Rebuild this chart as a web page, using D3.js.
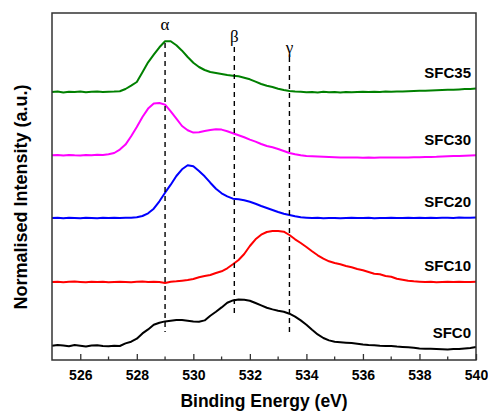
<!DOCTYPE html>
<html>
<head>
<meta charset="utf-8">
<script src="https://cdn.jsdelivr.net/npm/d3@7"></script>
<style>
body { margin: 0; background: #fff; }
svg text { font-family: "Liberation Sans", Arial, sans-serif; font-weight: bold; fill: #000; }
</style>
</head>
<body>
<svg id="fig" width="488" height="412"></svg>
<script>
// binding energy grid (eV), 0.2 eV step
const energy = d3.range(0, 76).map(i => 525 + i * 0.2);

// intensities above each curve's own baseline (a.u.)
const sfc35 = [0, 0.5, -0.4, 0.3, 0, 0.6, -0.3, 0.2, 0.6, 0, 0.3, 0.4, 0.7, 3, 6.3, 10, 19.7, 29.7, 37.3, 44.7,
  50.7, 50.7, 46.7, 41.3, 35, 29.3, 25, 22, 20, 19, 18, 17, 16.3, 15.7, 14.3, 12.7, 10.3, 8, 6.3, 5,
  3.3, 2, 1, 0.5, 0.3, -0.2, 0, -0.4, 0.2, -0.3, 0, -0.4, 0.1, -0.2, 0, 0.2, -0.1, 0.3, 0.1, 0.4,
  0.3, 0.6, 0.4, 0.8, 1, 1.3, 1.2, 1.6, 1.8, 2.1, 2.3, 2.2, 2.6, 2.9, 3.1, 3.4];
const sfc30 = [0, 0.3, -0.3, 0.4, 0, -0.2, 0.3, 0, 0.5, 0.4, 1, 2.3, 5.7, 10.7, 19, 28.3, 38.3, 46.7, 51.7, 52.3,
  50.7, 44, 36.7, 29.3, 25, 22.7, 23, 24.3, 25.3, 26, 25.7, 24, 22, 20, 18, 15.7, 13.7, 11.3, 9.3, 8,
  6.3, 4.3, 2.3, 1, 0, -0.7, -1, -1.3, -1.5, -1.8, -2, -2.1, -2.2, -2.3, -2.2, -2.4, -2.3, -2.4, -2.2, -2.3,
  -2.3, -2.2, -2.1, -2.2, -2, -2, -1.8, -1.6, -1.5, -1.2, -1, -0.8, -0.6, -0.4, -0.2, 0];
const sfc20 = [0, 0.3, -0.2, 0.2, 0, -0.3, 0.2, 0.1, -0.2, 0.3, 0, 0.2, -0.1, 0.3, 0.2, 0.7, 2, 4.7, 9.3, 16.7,
  25.3, 33.3, 42, 48.7, 52.7, 51.7, 47, 41.7, 35.3, 29.3, 24.7, 21.7, 19.3, 18.7, 17.7, 16.3, 14.3, 12, 10, 8,
  6, 4.3, 3, 1.7, 0.7, 0.3, 0, 0.2, -0.2, 0, 0.1, -0.3, 0, 0.2, -0.1, 0, 0.2, -0.2, 0.1, 0,
  0.2, -0.1, 0.1, 0.3, 0, 0.2, 0.1, 0.3, 0, 0.2, 0.3, 0.1, 0.4, 0.2, 0.3, 0.4];
const sfc10 = [0, 0.3, -0.2, 0.2, 0.4, 0, -0.3, 0.2, 0, 0.3, -0.2, 0, 0.3, 0.1, -0.2, 0.2, 0.4, 0, 0.2, 0,
  -1, 0.3, 0.7, 1.3, 2, 3, 4.7, 6, 7, 9, 10.7, 13.7, 17.7, 22, 28, 36, 42.7, 47.3, 50, 51,
  51, 50.3, 47, 42.7, 39, 35, 30.7, 26.7, 23.3, 20.7, 19, 17.7, 16, 14.7, 13, 11.7, 10, 8.3, 7.7, 6,
  5.3, 3.3, 2.3, 1.3, 0.7, 0.3, 0, 0.2, -0.2, 0.1, 0.3, 0, 0.2, -0.1, 0.1, 0.2];
const sfc0 = [0, 0.8, 0.3, -0.5, 0.6, 0, -0.8, 0.2, 0.5, -0.3, -0.6, 0, -0.3, 2.3, 4, 7, 12.3, 16.3, 21, 23,
  24.3, 25, 25.7, 25.7, 25, 24.3, 24, 25.3, 30, 34, 38.3, 43, 45.3, 46.3, 46, 45, 42.7, 40.3, 38, 36.3,
  35, 34, 32, 29, 25.3, 21, 16, 11.3, 7.7, 5.3, 4, 3.5, 3, 2.6, 2, 1.2, 0.7, 0.4, 0, -0.2,
  -0.3, -0.9, -1.3, -1.6, -2, -2.8, -3, -3.1, -3.3, -3.5, -3.7, -3.4, -3.3, -2.8, -2.3, -1.3];

const sampleNames = ["SFC35", "SFC30", "SFC20", "SFC10", "SFC0"];
const sampleValues = [sfc35, sfc30, sfc20, sfc10, sfc0];
const sampleOffsets = [268, 204.7, 142, 78, 14.3];   // vertical stacking offsets (a.u.)
const sampleColors = ["#008000", "#ff00ff", "#0000ff", "#ff0000", "#000000"];

const peakNames = ["\u03b1", "\u03b2", "\u03b3"];
const peakEnergy = [529.0, 531.45, 533.4];

const xTicks = [526, 528, 530, 532, 534, 536, 538, 540];
const xMinor = [525, 527, 529, 531, 533, 535, 537, 539];

// layout
const plotL = 52, plotR = 476, plotT = 13, plotB = 360;
const svg = d3.select("#fig");

const x = d3.scaleLinear().domain([525, 540]).range([plotL, plotR]);
const y = d3.scaleLinear().domain([0, plotB - plotT]).range([plotB, plotT]);

const line = d3.line()
  .x(d => x(d[0]))
  .y(d => y(d[1]));

sampleNames.forEach((name, k) => {
  const pts = energy.map((e, i) => [e, sampleOffsets[k] + sampleValues[k][i]]);
  svg.append("path")
    .attr("d", line(pts))
    .attr("fill", "none")
    .attr("stroke", sampleColors[k])
    .attr("stroke-width", 2)
    .attr("stroke-linejoin", "round");
});

// dashed peak markers
const dashTop = [317, 313, 303];
const dashBottom = [28, 43, 27];
const labelY = [30, 42, 53];
peakEnergy.forEach((e, i) => {
  svg.append("line")
    .attr("x1", x(e)).attr("x2", x(e))
    .attr("y1", y(dashTop[i])).attr("y2", y(dashBottom[i]))
    .attr("stroke", "#000")
    .attr("stroke-width", 1.4)
    .attr("stroke-dasharray", "5,4");
  svg.append("text")
    .attr("x", x(e))
    .attr("y", labelY[i])
    .attr("text-anchor", "middle")
    .style("font-family", "'Liberation Serif', 'Times New Roman', serif")
    .style("font-weight", "normal")
    .style("font-size", "17px")
    .text(peakNames[i]);
});

// sample labels
const nameY = [78, 145, 207, 271, 338];
sampleNames.forEach((name, k) => {
  svg.append("text")
    .attr("x", 471)
    .attr("y", nameY[k])
    .attr("text-anchor", "end")
    .style("font-size", "15px")
    .text(name);
});

// frame
svg.append("rect")
  .attr("x", plotL).attr("y", plotT)
  .attr("width", plotR - plotL).attr("height", plotB - plotT)
  .attr("fill", "none")
  .attr("stroke", "#333")
  .attr("stroke-width", 1.5);

// x axis, ticks inward
const xAxis = d3.axisBottom(x).tickValues(xTicks).tickSize(-6).tickPadding(10).tickFormat(d3.format("d"));
const gx = svg.append("g").attr("transform", `translate(0,${plotB})`).call(xAxis);
gx.select(".domain").remove();
gx.selectAll(".tick line").attr("stroke", "#333").attr("stroke-width", 1.3);
gx.selectAll(".tick text").style("font-size", "14px").style("font-family", "'Liberation Sans', Arial, sans-serif");

svg.append("g").selectAll("line")
  .data(xMinor.filter(d => d > 525))
  .join("line")
  .attr("x1", d => x(d)).attr("x2", d => x(d))
  .attr("y1", plotB).attr("y2", plotB - 3.5)
  .attr("stroke", "#333").attr("stroke-width", 1.3);

svg.append("text")
  .attr("x", (plotL + plotR) / 2)
  .attr("y", 407)
  .attr("text-anchor", "middle")
  .style("font-size", "17.5px")
  .text("Binding Energy (eV)");

svg.append("text")
  .attr("transform", "translate(27,197) rotate(-90)")
  .attr("text-anchor", "middle")
  .style("font-size", "18px")
  .text("Normalised Intensity (a.u.)");
</script>
</body>
</html>
